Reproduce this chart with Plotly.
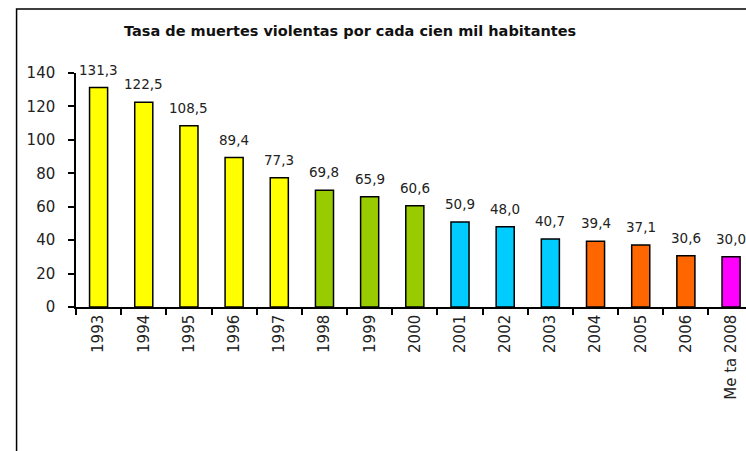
import plotly.graph_objects as go

categories = ["1993", "1994", "1995", "1996", "1997", "1998", "1999", "2000",
              "2001", "2002", "2003", "2004", "2005", "2006", "Me ta 2008"]
values = [131.3, 122.5, 108.5, 89.4, 77.3, 69.8, 65.9, 60.6,
          50.9, 48.0, 40.7, 39.4, 37.1, 30.6, 30.0]
labels = ["131,3", "122,5", "108,5", "89,4", "77,3", "69,8", "65,9", "60,6",
          "50,9", "48,0", "40,7", "39,4", "37,1", "30,6", "30,0"]
colors = ["#FFFF00"] * 5 + ["#99CC00"] * 3 + ["#00CCFF"] * 3 + ["#FF6600"] * 3 + ["#FF00FF"]
title = "Tasa de muertes violentas por cada cien mil habitantes"

FONT = "DejaVu Sans, Verdana, sans-serif"

fig = go.Figure()
fig.add_trace(go.Bar(
    x=categories, y=values,
    marker=dict(color=colors, line=dict(color="#000000", width=1.5)),
    width=0.4, hoverinfo="skip",
))

for i, (v, t) in enumerate(zip(values, labels)):
    fig.add_annotation(x=i, y=v, xref="x", yref="y", text=t, showarrow=False,
                       yanchor="bottom", yshift=8,
                       font=dict(family=FONT, size=13.5, color="#222222"))

L, T, B = 76.4, 73, 144
W, H = 746, 451
pw = W - L
ph = H - T - B

fig.add_shape(type="rect", xref="paper", yref="paper",
              x0=(17 - L) / pw, x1=1.2, y0=-1.0, y1=(H - B - 9) / ph,
              line=dict(color="#000000", width=1.5), fillcolor="rgba(0,0,0,0)", layer="below")

fig.add_annotation(xref="paper", yref="paper", x=(350 - L) / pw, y=(H - B - 31) / ph,
                   text="<b>" + title + "</b>", showarrow=False,
                   xanchor="center", yanchor="middle",
                   font=dict(family=FONT, size=14.5, color="#111111"))

fig.update_layout(
    width=W, height=H,
    margin=dict(l=L, r=0, t=T, b=B, pad=0),
    plot_bgcolor="white", paper_bgcolor="white",
    showlegend=False,
    font=dict(family=FONT, color="#222222"),
    xaxis=dict(
        type="category", range=[-0.5, -0.5 + pw / 45.15],
        showline=True, linecolor="#000000", linewidth=1.5,
        ticks="outside", tickson="boundaries", ticklen=6, tickcolor="#000000", tickwidth=1.5,
        tickangle=-90, tickfont=dict(family=FONT, size=15, color="#222222"),
        showgrid=False, zeroline=False,
    ),
    yaxis=dict(
        range=[0, 140], tickvals=[0, 20, 40, 60, 80, 100, 120, 140],
        showline=True, linecolor="#000000", linewidth=1.5,
        ticks="outside", ticklen=6, tickcolor="#000000", tickwidth=1.5,
        ticklabelstandoff=10,
        tickfont=dict(family=FONT, size=15, color="#222222"),
        showgrid=False, zeroline=False,
    ),
)

fig.write_html("out.html", config={"displayModeBar": False},
               post_script="document.body.style.margin='0';document.body.style.overflow='hidden';")
